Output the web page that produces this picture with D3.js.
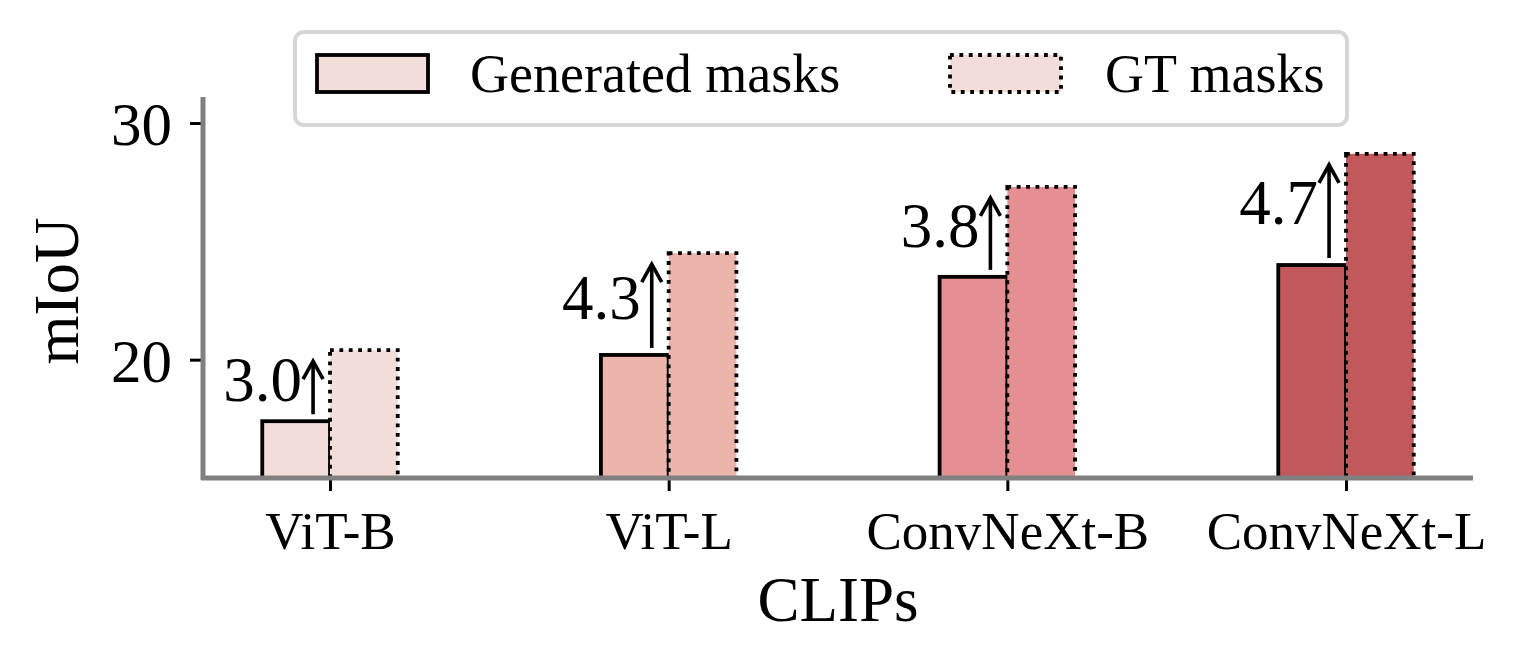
<!DOCTYPE html>
<html>
<head>
<meta charset="utf-8">
<script src="https://cdn.jsdelivr.net/npm/d3@7"></script>
<style>
  body { margin: 0; background: #fff; }
  svg text { font-family: "Liberation Serif", "Times New Roman", serif; fill: #000; }
</style>
</head>
<body>
<div id="chart"></div>
<script>
// data
const categories = ["ViT-B", "ViT-L", "ConvNeXt-B", "ConvNeXt-L"];
const generated = [17.4, 20.2, 23.5, 24.0];
const gtMasks = [20.4, 24.5, 27.3, 28.7];
const gains = ["3.0", "4.3", "3.8", "4.7"];
const colors = ["#f3ddd9", "#ebb5ac", "#e48f91", "#c1585a"];
const yTicks = [20, 30];
const seriesNames = ["Generated masks", "GT masks"];

const svg = d3.select("#chart").append("svg")
  .attr("width", 1523)
  .attr("height", 668);

// scales
const x = d3.scaleLinear().domain([-0.375, categories.length - 0.625]).range([203, 1473]);
const y = d3.scaleLinear().domain([15, 31.1]).range([478, 97]);
const bw = 0.2;

// bars
categories.forEach(function(c, i) {
  // generierte masken
  svg.append("rect")
    .attr("x", x(i - bw))
    .attr("y", y(generated[i]))
    .attr("width", x(i) - x(i - bw))
    .attr("height", y(15) - y(generated[i]))
    .attr("fill", colors[i])
    .attr("stroke", "#000")
    .attr("stroke-width", 3.8);

  // GT masken, gepunkteter rand
  svg.append("rect")
    .attr("x", x(i))
    .attr("y", y(gtMasks[i]))
    .attr("width", x(i + bw) - x(i))
    .attr("height", y(15) - y(gtMasks[i]))
    .attr("fill", colors[i])
    .attr("stroke", "#000")
    .attr("stroke-width", 3.8)
    .attr("stroke-dasharray", "3.8,5.6");
});

// axes
const yAxis = svg.append("g")
  .attr("transform", "translate(203,0)")
  .call(d3.axisLeft(y).tickValues(yTicks).tickSize(13).tickPadding(18).tickFormat(d3.format("d")));
yAxis.select(".domain").remove();
yAxis.selectAll(".tick line").attr("stroke", "#000").attr("stroke-width", 3);
yAxis.selectAll(".tick text").attr("font-size", 61).attr("dy", "0.36em");

const xAxis = svg.append("g")
  .attr("transform", "translate(0,478)")
  .call(d3.axisBottom(x).tickValues(d3.range(categories.length)).tickSize(13).tickPadding(20)
    .tickFormat(function(d) { return categories[d]; }));
xAxis.select(".domain").remove();
xAxis.selectAll(".tick line").attr("stroke", "#000").attr("stroke-width", 3);
xAxis.selectAll(".tick text").attr("font-size", 53).attr("dy", "0.72em");

// spines
svg.append("line").attr("x1", 203).attr("x2", 203).attr("y1", 97).attr("y2", 480)
  .attr("stroke", "#808080").attr("stroke-width", 5);
svg.append("line").attr("x1", 201).attr("x2", 1473).attr("y1", 478).attr("y2", 478)
  .attr("stroke", "#808080").attr("stroke-width", 5);

// pfeile und beschriftung
categories.forEach(function(c, i) {
  const ax = x(i - 0.05);
  const y0 = y(generated[i]) - 7;
  const y1 = y(gtMasks[i]) + 11;
  svg.append("line").attr("x1", ax).attr("x2", ax).attr("y1", y0).attr("y2", y1 + 2)
    .attr("stroke", "#000").attr("stroke-width", 3.6);
  svg.append("path")
    .attr("d", `M${ax - 10},${y1 + 18} L${ax},${y1} L${ax + 10},${y1 + 18}`)
    .attr("fill", "none").attr("stroke", "#000").attr("stroke-width", 3.6);
  svg.append("text")
    .attr("x", ax - 11)
    .attr("y", (y0 + y1) / 2 + 13)
    .attr("text-anchor", "end")
    .attr("font-size", 63)
    .text(gains[i]);
});

// axis labels
svg.append("text")
  .attr("transform", "translate(78,291) rotate(-90)")
  .attr("text-anchor", "middle")
  .attr("font-size", 63)
  .text("mIoU");
svg.append("text")
  .attr("x", 838).attr("y", 621)
  .attr("text-anchor", "middle")
  .attr("font-size", 63)
  .text("CLIPs");

// legende
const lg = svg.append("g");
lg.append("rect")
  .attr("x", 295).attr("y", 32).attr("width", 1052).attr("height", 93)
  .attr("rx", 9).attr("fill", "#fff").attr("fill-opacity", 0.8)
  .attr("stroke", "#d6d6d6").attr("stroke-width", 4);
lg.append("rect")
  .attr("x", 317).attr("y", 55).attr("width", 111).attr("height", 37)
  .attr("fill", colors[0]).attr("stroke", "#000").attr("stroke-width", 3.8);
lg.append("text").attr("x", 470).attr("y", 92).attr("font-size", 54).text(seriesNames[0]);
lg.append("rect")
  .attr("x", 950).attr("y", 55).attr("width", 111).attr("height", 37)
  .attr("fill", colors[0]).attr("stroke", "#000").attr("stroke-width", 3.8)
  .attr("stroke-dasharray", "3.8,5.6");
lg.append("text").attr("x", 1105).attr("y", 92).attr("font-size", 54).text(seriesNames[1]);
</script>
</body>
</html>
